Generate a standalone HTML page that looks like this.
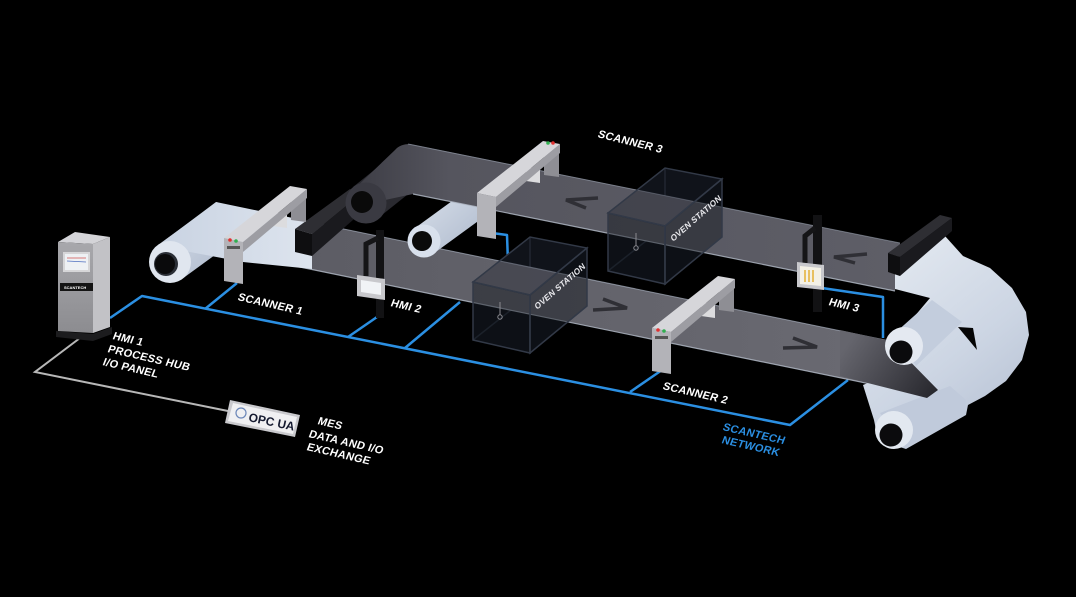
<!DOCTYPE html>
<html><head><meta charset="utf-8"><style>
html,body{margin:0;padding:0;background:#000;}
svg{display:block}
text{font-family:"Liberation Sans",Arial,sans-serif;font-weight:bold;}
</style></head><body>
<svg width="1076" height="597" viewBox="0 0 1076 597" xmlns="http://www.w3.org/2000/svg">
<defs>
<linearGradient id="ub" gradientUnits="userSpaceOnUse" x1="350" y1="0" x2="900" y2="0">
<stop offset="0" stop-color="#3c3c44"/><stop offset="0.18" stop-color="#55555e"/><stop offset="1" stop-color="#5e5e67"/></linearGradient>
<linearGradient id="lb" gradientUnits="userSpaceOnUse" x1="290" y1="0" x2="890" y2="0">
<stop offset="0" stop-color="#5c5c64"/><stop offset="1" stop-color="#6a6a72"/></linearGradient>
<linearGradient id="strip" gradientUnits="userSpaceOnUse" x1="850" y1="340" x2="935" y2="398">
<stop offset="0" stop-color="#65656d"/><stop offset="1" stop-color="#26262c"/></linearGradient>
<linearGradient id="wh" gradientUnits="userSpaceOnUse" x1="890" y1="250" x2="1030" y2="430">
<stop offset="0" stop-color="#e2e8f0"/><stop offset="0.55" stop-color="#ccd5e3"/><stop offset="1" stop-color="#b4bfd2"/></linearGradient>
<linearGradient id="sheet" gradientUnits="userSpaceOnUse" x1="160" y1="0" x2="310" y2="0">
<stop offset="0" stop-color="#c9d3e2"/><stop offset="1" stop-color="#dde4ee"/></linearGradient>
<linearGradient id="cab" x1="0" y1="0" x2="0" y2="1"><stop offset="0" stop-color="#a8a8ac"/><stop offset="1" stop-color="#8c8c90"/></linearGradient>
<linearGradient id="roll" x1="0" y1="0" x2="1" y2="1"><stop offset="0" stop-color="#dbe2ec"/><stop offset="1" stop-color="#aab6ca"/></linearGradient>
</defs>
<rect width="1076" height="597" fill="#000"/>

<!-- floor network lines -->
<g fill="none" stroke="#2b8fe2" stroke-width="2.5" stroke-linejoin="round">
<polyline points="110,318 142,296 790,425 848,380"/>
<line x1="205" y1="309" x2="237" y2="283"/>
<line x1="348" y1="337" x2="377" y2="317"/>
<line x1="405" y1="348" x2="460" y2="302"/>
<line x1="630" y1="392" x2="662" y2="370"/>
<polyline points="492,233 507,235 508,263"/>
<polyline points="822,288 883,297 883,338"/>
</g>
<polyline points="80,338 35,372 228,411" fill="none" stroke="#b8b8b8" stroke-width="2"/>

<!-- OPC UA box -->
<polygon points="230,400 300,415 295,437 225,423" fill="#c9c9cd"/>
<polygon points="233,403 297,417 293,434 228,421" fill="#f0f0f2"/>
<circle cx="241" cy="413" r="5" fill="none" stroke="#6b86b8" stroke-width="1.2"/>
<text transform="translate(248,421) rotate(12)" font-size="12" fill="#151a30" font-weight="900">OPC UA</text>

<!-- floor labels -->
<g fill="#ffffff" font-size="11" letter-spacing="0.3">
<text transform="translate(597,137) rotate(14) skewX(-8)">SCANNER 3</text>
<text transform="translate(237,300) rotate(13) skewX(-8)">SCANNER 1</text>
<text transform="translate(390,306) rotate(13) skewX(-8)">HMI 2</text>
<text transform="translate(828,305) rotate(13) skewX(-8)">HMI 3</text>
<text transform="translate(662,389) rotate(13) skewX(-8)">SCANNER 2</text>
<text transform="translate(112,339) rotate(13) skewX(-8)">HMI 1</text>
<text transform="translate(107,352) rotate(13) skewX(-8)">PROCESS HUB</text>
<text transform="translate(102,365) rotate(13) skewX(-8)">I/O PANEL</text>
<text transform="translate(317,424) rotate(13) skewX(-8)">MES</text>
<text transform="translate(308,437) rotate(13) skewX(-8)">DATA AND I/O</text>
<text transform="translate(306,450) rotate(13) skewX(-8)">EXCHANGE</text>
</g>
<g fill="#2b8fe2" font-size="11" letter-spacing="0.3">
<text transform="translate(722,430) rotate(13) skewX(-8)">SCANTECH</text>
<text transform="translate(721,443) rotate(13) skewX(-8)">NETWORK</text>
</g>

<!-- HMI1 cabinet -->
<polygon points="56,331 93,334 112,327 112,334 93,341 56,337" fill="#1c1c1e"/>
<polygon points="58,242 93,244 110,237 75,232" fill="#d4d4d8"/>
<polygon points="58,242 93,244 93,333 58,331" fill="url(#cab)"/>
<polygon points="93,244 110,237 110,327 93,333" fill="#c2c2c6"/>
<rect x="63" y="252" width="27" height="20" fill="#d6d6d8"/>
<rect x="65" y="254" width="23" height="16" fill="#eef1f4"/>
<line x1="67" y1="258" x2="86" y2="258" stroke="#d05050" stroke-width="0.8"/>
<line x1="67" y1="261" x2="86" y2="262" stroke="#5070c0" stroke-width="0.8"/>
<rect x="60" y="283" width="33" height="8" fill="#141414"/>
<text x="64" y="289" font-size="4" fill="#fff">SCANTECH</text>

<!-- oven box back fills -->
<polygon points="665,168 722,179 722,237 665,284 608,271 608,213" fill="#0c0e13"/>
<polygon points="530,237 587,248 587,306 530,353 473,340 473,282" fill="#0c0e13"/>
<g stroke="#262c37" stroke-width="1.5" fill="none">
<polyline points="608,271 665,226 722,237"/>
<line x1="665" y1="168" x2="665" y2="226"/>
<polyline points="473,340 530,295 587,306"/>
<line x1="530" y1="237" x2="530" y2="295"/>
</g>

<!-- lower belt -->
<polygon points="290,218 890,341 890,388 290,265" fill="url(#lb)"/>
<line x1="290" y1="218" x2="890" y2="341" stroke="#a9b1c0" stroke-width="1" opacity="0.7"/>
<line x1="290" y1="265" x2="890" y2="388" stroke="#b7bfcc" stroke-width="1.2" opacity="0.8"/>

<!-- left white roll + sheet -->
<polygon points="158,245 217,202 241,236 182,279" fill="url(#roll)"/>
<polygon points="160,244 216,202 312,222 312,269 243,262 190,252" fill="url(#sheet)"/>
<circle cx="170" cy="262" r="21" fill="#e0e6ef"/>
<circle cx="166" cy="264" r="12" fill="#2a2e36"/>
<circle cx="165" cy="264" r="10" fill="#0a0a0c"/>

<!-- left black bar -->
<polygon points="295,229 350,189 362,193 312,234" fill="#2e2e33"/>
<polygon points="312,234 362,193 362,212 312,256" fill="#1a1a1e"/>
<polygon points="295,229 312,234 312,256 295,252" fill="#0e0e10"/>

<!-- middle white roll (under upper belt) -->
<polygon points="415,228 474,185 492,211 433,254" fill="url(#roll)"/>
<circle cx="424" cy="241" r="16.5" fill="#d8e0ec"/>
<circle cx="422" cy="241" r="10" fill="#0a0a0a"/>

<!-- upper belt + dark roll -->
<polygon points="353,187 398,151 422,183 377,219" fill="#2a2a30"/>
<path d="M347,196 L395,150 Q400,144 410,144 L900,243 L895,291 L413,194 L385,200 Z" fill="url(#ub)"/>
<line x1="408" y1="144" x2="900" y2="243" stroke="#9aa2b0" stroke-width="1" opacity="0.6"/>
<line x1="413" y1="194" x2="895" y2="291" stroke="#b7bfcc" stroke-width="1.2" opacity="0.8"/>
<circle cx="366" cy="203" r="20.5" fill="#3a3a42"/>
<circle cx="362" cy="202" r="11" fill="#0a0a0a"/>

<!-- chevrons -->
<g fill="none" stroke="#2f2f35" stroke-width="3.5" stroke-linejoin="miter">
<polyline points="598,198 566,200 586,208"/>
<polyline points="867,254 834,257 855,263"/>
<polyline points="603,299 627,308 593,310"/>
<polyline points="793,338 817,347 783,348"/>
</g>

<!-- right side: curl -->
<polygon points="895,270 945,236 945,252 895,289" fill="#b4bac4"/>
<polygon points="895,262 945,236 963,256 990,268 1012,288 1026,312 1029,335 1022,360 1006,381 985,396 968,405 966,415 906,449 878,440 874,420 863,385 880,378 888,350 903,330 930,298 895,289" fill="url(#wh)"/>
<polygon points="895,333 932,300 962,322 916,366" fill="#c3cddd"/>
<polygon points="880,413 950,386 966,400 964,416 906,447" fill="#c0cadb"/>
<polygon points="958,327 973,328 977,350" fill="#050505"/>
<polygon points="840,330 890,341 938,390 927,398 840,376" fill="url(#strip)"/>
<circle cx="904" cy="346" r="19" fill="#e4e9f1"/>
<circle cx="901" cy="352" r="11.5" fill="#0b0b0d"/>
<circle cx="894" cy="430" r="19" fill="#e2e8f0"/>
<circle cx="891" cy="435" r="11.5" fill="#0b0b0d"/>
<!-- right black bar -->
<polygon points="888,253 940,215 952,218 900,257" fill="#2e2e33"/>
<polygon points="900,257 952,218 952,231 900,276" fill="#1a1a1e"/>
<polygon points="888,253 900,257 900,276 888,272" fill="#0e0e10"/>

<!-- oven front faces -->
<g stroke="#323947" stroke-width="1.5">
<polygon points="608,213 665,226 722,179 665,168" fill="#1a1e28" fill-opacity="0.35"/>
<polygon points="608,213 665,226 665,284 608,271" fill="#10131a" fill-opacity="0.45"/>
<polygon points="665,226 722,179 722,237 665,284" fill="#10131a" fill-opacity="0.45"/>
<polygon points="473,282 530,295 587,248 530,237" fill="#1a1e28" fill-opacity="0.35"/>
<polygon points="473,282 530,295 530,353 473,340" fill="#10131a" fill-opacity="0.45"/>
<polygon points="530,295 587,248 587,306 530,353" fill="#10131a" fill-opacity="0.45"/>
</g>
<g stroke="#8a8a90" stroke-width="1" fill="none">
<line x1="636" y1="233" x2="636" y2="246"/><circle cx="636" cy="248" r="2.2"/>
<line x1="500" y1="302" x2="500" y2="315"/><circle cx="500" cy="317" r="2.2"/>
</g>
<g fill="#e8e8ec" font-size="8.5" letter-spacing="0.2">
<text transform="translate(673,242) rotate(-41) skewX(-10)">OVEN STATION</text>
<text transform="translate(537,310) rotate(-41) skewX(-10)">OVEN STATION</text>
</g>

<!-- scanners -->
<g>
<polygon points="291,189 306,190 306,222 291,220" fill="#8e8e94"/>
<polygon points="273,212 287,214 287,228 273,226" fill="#dcdcde"/>
<polygon points="224,238 290,186 307,189 243,242" fill="#d6d6da"/>
<polygon points="243,242 307,189 307,198 243,252" fill="#9d9da3"/>
<polygon points="224,238 243,242 243,284 224,281" fill="#b3b3b8"/>
<rect x="227" y="246" width="13" height="3" fill="#555"/>
</g>
<g transform="translate(253,-45)">
<polygon points="291,189 306,190 306,222 291,220" fill="#8e8e94"/>
<polygon points="273,212 287,214 287,228 273,226" fill="#dcdcde"/>
<polygon points="224,238 290,186 307,189 243,242" fill="#d6d6da"/>
<polygon points="243,242 307,189 307,198 243,252" fill="#9d9da3"/>
<polygon points="224,238 243,242 243,284 224,281" fill="#b3b3b8"/>
</g>
<g transform="translate(428,90)">
<polygon points="291,189 306,190 306,222 291,220" fill="#8e8e94"/>
<polygon points="273,212 287,214 287,228 273,226" fill="#dcdcde"/>
<polygon points="224,238 290,186 307,189 243,242" fill="#d6d6da"/>
<polygon points="243,242 307,189 307,198 243,252" fill="#9d9da3"/>
<polygon points="224,238 243,242 243,284 224,281" fill="#b3b3b8"/>
<rect x="227" y="246" width="13" height="3" fill="#555"/>
</g>
<circle cx="230" cy="240" r="1.8" fill="#e03030"/><circle cx="236" cy="241" r="1.8" fill="#30b050"/>
<circle cx="658" cy="330" r="1.8" fill="#e03030"/><circle cx="664" cy="331" r="1.8" fill="#30b050"/>
<circle cx="548" cy="143" r="1.8" fill="#30b050"/><circle cx="553" cy="143" r="1.8" fill="#e03030"/>

<!-- HMI 2 -->
<rect x="376" y="230" width="8" height="88" fill="#121214"/>
<polyline points="378,238 366,244 366,276" fill="none" stroke="#151517" stroke-width="5"/>
<polygon points="357,275 385,279 385,300 357,296" fill="#c8c8cc"/>
<polygon points="361,280 381,283 381,295 361,292" fill="#f1f3f6"/>
<!-- HMI 3 -->
<rect x="813" y="215" width="9" height="97" fill="#121214"/>
<polyline points="815,228 805,236 805,263" fill="none" stroke="#151517" stroke-width="5"/>
<polygon points="797,262 824,265 824,290 797,287" fill="#c8c8cc"/>
<polygon points="800,266 821,268 821,286 800,284" fill="#f4f1e6"/>
<g fill="#e8c060"><rect x="804" y="270" width="2" height="12"/><rect x="808" y="270" width="2" height="12"/><rect x="812" y="270" width="2" height="12"/></g>
</svg>
</body></html>
